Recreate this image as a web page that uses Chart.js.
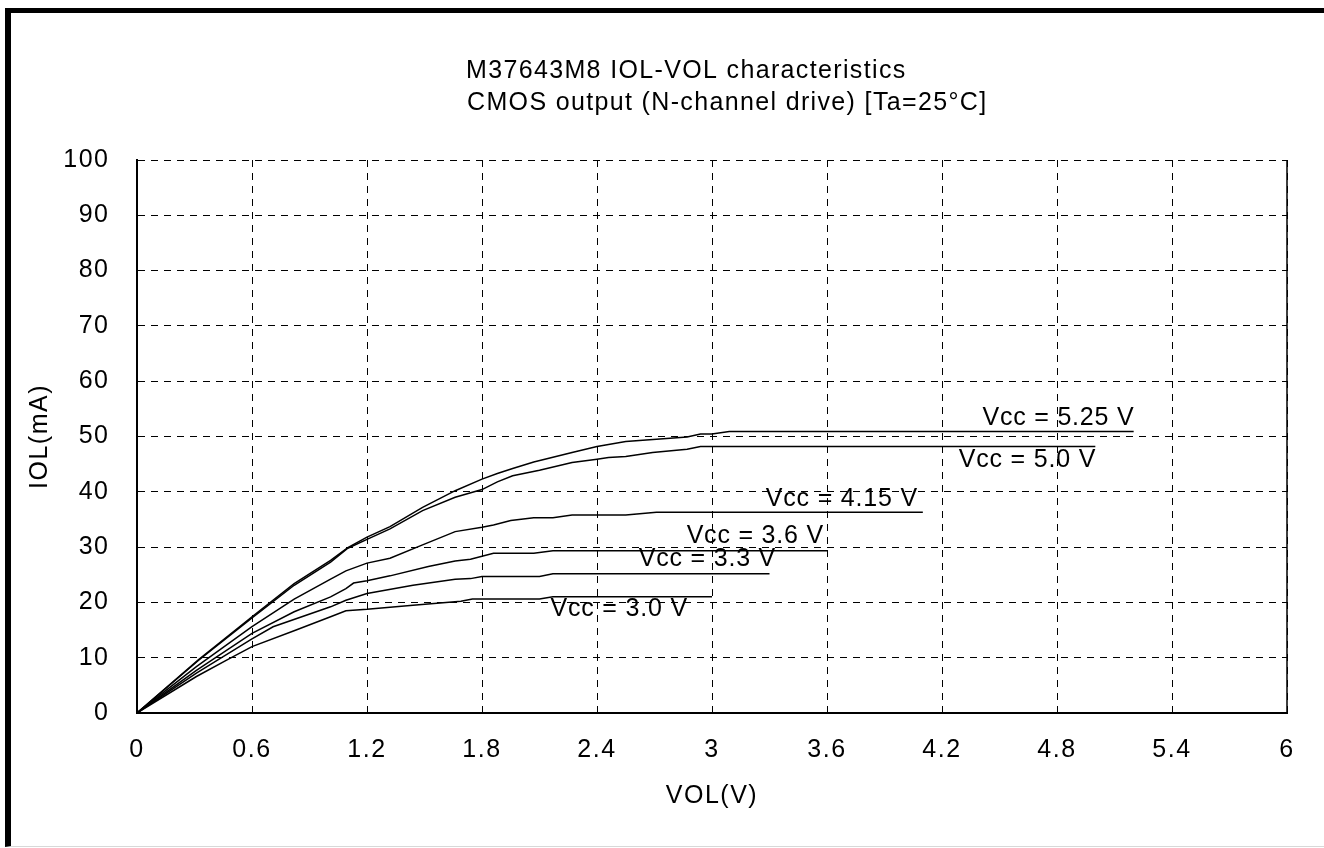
<!DOCTYPE html>
<html>
<head>
<meta charset="utf-8">
<style>
  html, body { margin: 0; padding: 0; background: #fff; }
  #frame { position: absolute; left: 5px; top: 8px; width: 1319px; height: 839px; box-sizing: border-box;
           border-left: 6px solid #000; border-top: 5px solid #000; border-bottom: 1px solid #d8d8d8; }
  #chart { position: absolute; left: 0; top: 0; }
</style>
<script src="https://cdn.jsdelivr.net/npm/chart.js@4/dist/chart.umd.min.js"></script>
</head>
<body>
<div id="frame"></div>
<canvas id="chart" width="1324" height="848"></canvas>
<script>
const titleLines = ['M37643M8 IOL-VOL characteristics', 'CMOS output (N-channel drive) [Ta=25\u00B0C]'];

const xTicks = [0, 0.6, 1.2, 1.8, 2.4, 3, 3.6, 4.2, 4.8, 5.4, 6];
const xTickLabels = ['0', '0.6', '1.2', '1.8', '2.4', '3', '3.6', '4.2', '4.8', '5.4', '6'];

const seriesNames = ['Vcc = 5.25 V', 'Vcc = 5.0 V', 'Vcc = 4.15 V', 'Vcc = 3.6 V', 'Vcc = 3.3 V', 'Vcc = 3.0 V'];

// VOL (V) / IOL (mA)
const vol525 = [0, 0.32, 0.6, 0.82, 1.01, 1.1, 1.2, 1.32, 1.49, 1.66, 1.8, 1.88, 1.96, 2.07, 2.27, 2.4, 2.55, 2.87, 2.94, 3.0, 3.09, 5.2];
const iol525 = [0, 9.6, 17.4, 23.4, 27.6, 29.9, 31.8, 33.7, 37.2, 40.2, 42.3, 43.3, 44.2, 45.4, 47.1, 48.2, 49.1, 49.9, 50.45, 50.45, 50.9, 50.9];
const vol500 = [0, 0.32, 0.6, 0.82, 1.01, 1.1, 1.2, 1.32, 1.49, 1.66, 1.8, 1.88, 1.96, 2.1, 2.27, 2.4, 2.46, 2.55, 2.69, 2.87, 2.94, 5.0];
const iol500 = [0, 9.5, 17.2, 23.1, 27.3, 29.8, 31.4, 33.3, 36.6, 39.0, 40.4, 41.8, 42.9, 43.9, 45.3, 45.9, 46.2, 46.4, 47.1, 47.7, 48.2, 48.2];
const vol415 = [0, 0.31, 0.6, 0.82, 1.01, 1.09, 1.2, 1.32, 1.49, 1.66, 1.8, 1.86, 1.95, 2.07, 2.17, 2.27, 2.55, 2.71, 4.1];
const iol415 = [0, 8.4, 15.6, 20.6, 24.2, 25.7, 27.1, 28.0, 30.4, 32.8, 33.6, 34.0, 34.8, 35.3, 35.3, 35.8, 35.8, 36.3, 36.3];
const vol360 = [0, 0.31, 0.6, 0.82, 1.01, 1.09, 1.13, 1.2, 1.32, 1.52, 1.66, 1.74, 1.86, 2.07, 2.17, 3.6];
const iol360 = [0, 7.7, 14.4, 18.3, 21.0, 22.5, 23.5, 23.9, 24.8, 26.5, 27.5, 27.8, 28.9, 28.9, 29.35, 29.35];
const vol330 = [0, 0.31, 0.6, 0.71, 1.01, 1.09, 1.2, 1.44, 1.66, 1.74, 1.8, 2.1, 2.17, 3.3];
const iol330 = [0, 7.2, 13.4, 15.6, 19.2, 20.4, 21.6, 23.1, 24.2, 24.3, 24.7, 24.7, 25.2, 25.2];
const vol300 = [0, 0.31, 0.47, 0.6, 0.83, 1.01, 1.09, 1.2, 1.44, 1.69, 1.75, 2.1, 2.17, 3.0];
const iol300 = [0, 6.6, 9.6, 12.0, 15.0, 17.4, 18.5, 18.75, 19.5, 20.2, 20.6, 20.6, 21.0, 21.0];

// where each curve label ends (right edge of the text, baseline), in V / mA
const labelVol = [5.2, 5.0, 4.07, 3.58, 3.33, 2.87];
const labelIol = [52.1, 44.5, 37.4, 30.7, 26.5, 17.5];

const FONT = '"Liberation Sans", Arial, sans-serif';
Chart.defaults.font.family = FONT;
Chart.defaults.color = '#000';

function pts(xs, ys) {
  return xs.map((x, i) => ({ x: x, y: ys[i] }));
}

const curves = [[vol525, iol525], [vol500, iol500], [vol415, iol415], [vol360, iol360], [vol330, iol330], [vol300, iol300]];

const decor = {
  id: 'decor',
  beforeDraw(chart) {
    chart.ctx.letterSpacing = '1.5px';
  },
  afterDatasetsDraw(chart) {
    const { ctx, chartArea, scales } = chart;
    ctx.save();
    ctx.setLineDash([]);
    ctx.strokeStyle = '#000';
    ctx.lineWidth = 1.5;
    ctx.beginPath();
    ctx.moveTo(chartArea.right, chartArea.top);
    ctx.lineTo(chartArea.right, chartArea.bottom);
    ctx.stroke();

    ctx.fillStyle = '#000';
    ctx.font = '25px ' + FONT;
    ctx.letterSpacing = '0.8px';
    ctx.textAlign = 'right';
    ctx.textBaseline = 'alphabetic';
    seriesNames.forEach((name, i) => {
      ctx.fillText(name, scales.x.getPixelForValue(labelVol[i]) + 0.8, scales.y.getPixelForValue(labelIol[i]));
    });
    ctx.restore();
  },
  afterDraw(chart) {
    const ctx = chart.ctx;
    ctx.save();
    ctx.fillStyle = '#000';
    ctx.font = '25px ' + FONT;
    ctx.letterSpacing = '1.35px';
    ctx.textAlign = 'left';
    ctx.textBaseline = 'alphabetic';
    ctx.fillText(titleLines[0], 466, 78);
    ctx.fillText(titleLines[1], 467, 110);
    ctx.restore();
  }
};

new Chart(document.getElementById('chart'), {
  type: 'scatter',
  data: {
    datasets: curves.map((c, i) => ({
      label: seriesNames[i],
      data: pts(c[0], c[1]),
      showLine: true,
      borderColor: '#000',
      borderWidth: 1.5,
      pointRadius: 0,
      tension: 0
    }))
  },
  options: {
    responsive: false,
    animation: false,
    events: [],
    layout: { padding: { top: 160, right: 37, bottom: 0, left: 0 } },
    plugins: { legend: { display: false }, tooltip: { enabled: false }, title: { display: false } },
    scales: {
      x: {
        type: 'linear',
        min: 0,
        max: 6,
        afterBuildTicks: s => { s.ticks = xTicks.map(v => ({ value: v })); },
        afterFit: s => { s.height = 135; },
        ticks: {
          autoSkip: false,
          maxRotation: 0,
          padding: 27,
          font: { size: 25 },
          callback: v => xTickLabels[xTicks.indexOf(v)]
        },
        grid: { color: '#000', lineWidth: 1, drawTicks: true, tickLength: -5, tickColor: '#000', tickWidth: 1, tickBorderDash: [] },
        border: { display: true, color: '#000', width: 2, dash: [7, 6] },
        title: { display: true, text: 'VOL(V)', font: { size: 25 }, padding: { top: 0, bottom: 37 } }
      },
      y: {
        type: 'linear',
        min: 0,
        max: 100,
        afterFit: s => { s.width = 137; },
        ticks: { stepSize: 10, padding: 32.5, font: { size: 25 } },
        grid: { color: '#000', lineWidth: 1, drawTicks: true, tickLength: -5, tickColor: '#000', tickWidth: 1, tickBorderDash: [] },
        border: { display: true, color: '#000', width: 2, dash: [7, 6] },
        title: { display: true, text: 'IOL(mA)', font: { size: 25 }, padding: { top: 25, bottom: 0 } }
      }
    }
  },
  plugins: [decor]
});
</script>
</body>
</html>
